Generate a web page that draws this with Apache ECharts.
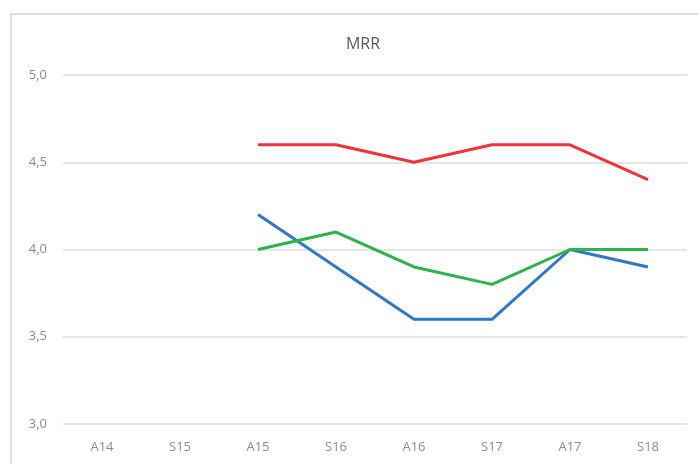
<!DOCTYPE html>
<html>
<head>
<meta charset="utf-8">
<script src="https://cdn.jsdelivr.net/npm/echarts@6/dist/echarts.min.js"></script>
<style>
  html, body { margin: 0; padding: 0; background: #fff; }
  #frame { position: absolute; left: 10px; top: 13px; width: 700px; height: 460px; border: 2px solid #e0e0e0; }
  #chart { position: absolute; left: 0; top: 0; width: 699px; height: 464px; }
</style>
</head>
<body>
<div id="frame"></div>
<div id="chart"></div>
<script>
const categories = ['A14', 'S15', 'A15', 'S16', 'A16', 'S17', 'A17', 'S18']
const redValues = [null, null, 4.6, 4.6, 4.5, 4.6, 4.6, 4.4]
const blueValues = [null, null, 4.2, 3.9, 3.6, 3.6, 4.0, 3.9]
const greenValues = [null, null, 4.0, 4.1, 3.9, 3.8, 4.0, 4.0]

const chart = echarts.init(document.getElementById('chart'))

function lineSeries(name, data, color) {
  return {
    name: name,
    type: 'line',
    data: data,
    symbol: 'none',
    lineStyle: { color: color, width: 3 },
    itemStyle: { color: color },
    animation: false
  }
}

chart.setOption({
  title: {
    text: 'MRR',
    left: 358,
    textAlign: 'center',
    top: 31,
    textStyle: { color: '#595959', fontSize: 16, fontWeight: 'normal', fontFamily: 'Open Sans' }
  },
  grid: { left: 63, right: 12, top: 75, bottom: 40 },
  xAxis: {
    type: 'category',
    data: categories,
    boundaryGap: true,
    axisLine: { show: false },
    axisTick: { show: false },
    axisLabel: { color: '#8c8c8c', fontSize: 13, fontFamily: 'Open Sans', margin: 17 }
  },
  yAxis: {
    type: 'value',
    min: 3,
    max: 5,
    interval: 0.5,
    axisLine: { show: false },
    axisTick: { show: false },
    splitLine: { lineStyle: { color: '#e6e6e6', width: 2 } },
    axisLabel: {
      color: '#8c8c8c',
      fontSize: 13,
      fontFamily: 'Open Sans',
      margin: 16,
      formatter: v => v.toFixed(1).replace('.', ',')
    }
  },
  series: [
    lineSeries('Red', redValues, '#f0333b'),
    lineSeries('Blue', blueValues, '#2f78c6'),
    lineSeries('Green', greenValues, '#2db24c')
  ]
})
</script>
</body>
</html>
